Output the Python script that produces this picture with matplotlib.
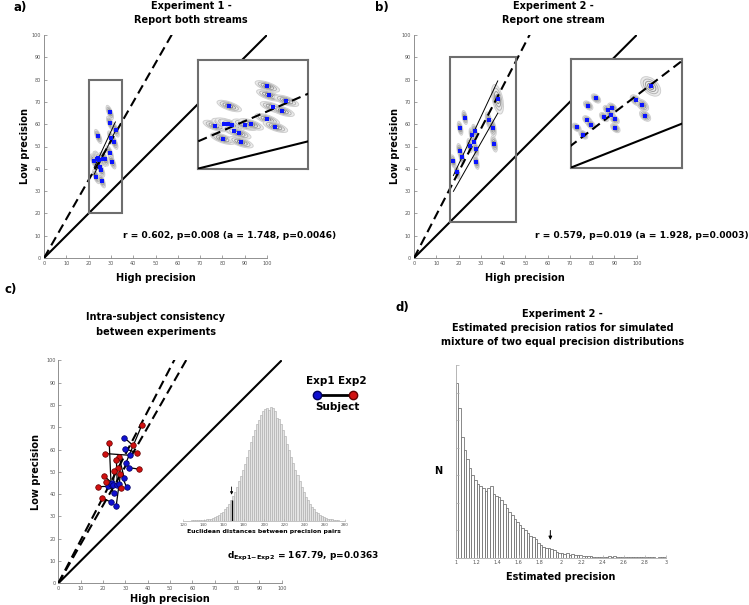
import numpy as np
import matplotlib
matplotlib.use('Agg')
import matplotlib.pyplot as plt
from matplotlib.patches import Ellipse, Rectangle
from matplotlib.ticker import FormatStrFormatter

# ---- data ----
# Experiment 1 precision estimates (high, low)
exp1_high = [29.5, 29.7, 24.3, 32.1, 30.2, 31.5, 29.5, 30.6, 22.4, 23.6, 24.1, 24.7, 26.4, 27.3, 25.0, 25.6, 23.4, 25.9]
exp1_low = [65.3, 60.4, 54.5, 57.4, 53.8, 51.9, 47.2, 43.1, 43.5, 44.6, 44.8, 44.0, 44.2, 44.4, 40.7, 39.5, 36.5, 34.6]
# Experiment 2
exp2_high = [37.5, 33.5, 35.3, 36.0, 22.8, 20.7, 26.0, 27.2, 26.8, 25.0, 27.8, 28.0, 20.5, 21.4, 17.6, 19.4]
exp2_low = [71.2, 61.8, 58.5, 51.2, 63.0, 58.2, 55.2, 56.8, 51.9, 50.4, 48.8, 42.9, 48.2, 45.3, 43.3, 38.4]
exp2_spread = [1.8, 1.0, 1.1, 1.0, 0.85, 0.85, 0.85, 0.85, 0.85, 0.85, 0.85, 0.85, 0.85, 0.85, 0.8, 0.8]

# subjects that took part in both experiments (index into exp1, index into exp2)
pair_exp1 = [0, 1, 3, 4, 5, 6, 7, 8, 9, 10, 11, 12, 13, 14, 16, 17]
pair_exp2 = [1, 2, 5, 0, 3, 7, 8, 14, 4, 12, 9, 6, 11, 13, 15, 10]

slope_exp1 = 1.748
slope_exp2 = 1.928
zoom_a_x, zoom_a_y = (20, 35), (20, 80)
zoom_b_x, zoom_b_y = (16, 46), (16, 90)

# slope confidence lines
ci_a_x = [22.5, 32.0]
ci_a_upper = [40.5, 61.0]
ci_a_lower = [37.5, 57.0]
ci_b_x = [17.7, 37.6]
ci_b_upper = [37.0, 79.4]
ci_b_lower = [29.9, 64.9]

stats_a = 'r = 0.602, p=0.008 (a = 1.748, p=0.0046)'
stats_b = 'r = 0.579, p=0.019 (a = 1.928, p=0.0003)'

# permutation distribution of euclidean distances (bins of 2, from 128)
dist_start = 128
dist_counts = [1, 1, 1, 1, 1, 2, 3, 4, 5, 6, 8, 11, 14, 17, 22, 27, 34, 42, 51, 61, 73,
               86, 100, 117, 134, 152, 168, 191, 211, 234, 251, 269, 287, 300, 315, 326, 334,
               336, 330, 338, 336, 326, 305, 302, 287, 269, 251, 228, 211, 191, 171,
               152, 137, 117, 100, 86, 70, 61, 51, 42, 34, 27, 22, 17, 14, 11, 8,
               6, 5, 4, 3, 2, 1]
observed_dist = 167.79

# simulated precision ratios (bins of 0.025 from 1)
ratio_counts = [525, 449, 361, 324, 296, 270, 247, 232, 220, 216, 209, 200, 208, 214, 190, 185,
                182, 172, 160, 148, 137, 128, 116, 108, 99, 89, 82, 74, 65, 61, 55, 44,
                39, 32, 28, 29, 26, 23, 17, 14,
                13, 11, 15, 9, 11, 7, 9, 7, 6, 5, 5, 4, 3, 3, 2, 3, 3, 2, 4, 3,
                4, 3, 2, 3, 2, 2, 3, 1, 2, 1, 1, 2, 1, 1, 1, 1, 0, 1, 1, 2]
observed_ratio = 1.9

dist_left = dist_start + 2 * np.arange(len(dist_counts))
ratio_left = 1.0 + 0.025 * np.arange(len(ratio_counts))

W, H = 749, 605
fig = plt.figure(figsize=(W / 100, H / 100), dpi=100)
plt.rcParams['mathtext.fontset'] = 'dejavusans'


def box(l, t, r, b):
    return [l / W, 1 - b / H, (r - l) / W, (b - t) / H]


def ftext(x, y, s, **kw):
    kw.setdefault('ha', 'center')
    kw.setdefault('va', 'center')
    kw.setdefault('fontweight', 'bold')
    fig.text(x / W, 1 - y / H, s, **kw)


GRAY = '#7f7f7f'


def style_axes(ax, xlabel, ylabel, ylabelpad):
    ax.set_xlim(0, 100)
    ax.set_ylim(0, 100)
    ax.set_xticks(range(0, 101, 10))
    ax.set_yticks(range(0, 101, 10))
    for s in ['top', 'right']:
        ax.spines[s].set_visible(False)
    for s in ['left', 'bottom']:
        ax.spines[s].set_color(GRAY)
        ax.spines[s].set_linewidth(0.6)
    ax.tick_params(direction='in', length=2, width=0.5, colors=GRAY,
                   labelsize=3.5, labelcolor='#555555', pad=2)
    ax.set_xlabel(xlabel, fontsize=7, fontweight='bold', labelpad=5)
    ax.set_ylabel(ylabel, fontsize=7, fontweight='bold', labelpad=ylabelpad)


def blobs(ax, xs, ys, spread, angle, ms):
    shades = ['#cfcfcf', '#b4b4b4', '#9a9a9a', '#808080']
    for x, y, s in zip(xs, ys, spread):
        ax.add_patch(Ellipse((x, y), 7.5 * s, 2.6 * s, angle=angle,
                             fc='#ececec', ec='none', zorder=2))
        for k, c in zip([1.0, 0.75, 0.52, 0.3], shades):
            ax.add_patch(Ellipse((x, y), 7.5 * s * k, 2.6 * s * k, angle=angle,
                                 fill=False, ec=c, lw=0.7, zorder=2))
    ax.plot(xs, ys, 's', color='#0a14ff', ms=ms, mew=0, zorder=4)


def identity_lines(ax, slopes, lw=1.5):
    xs = np.array([0, 100])
    ax.plot(xs, xs, color='k', lw=lw, zorder=3, solid_capstyle='butt')
    for sl in slopes:
        ax.plot(xs, sl * xs, color='k', lw=lw, ls=(0, (4.5, 2.5)), zorder=3)


def scatter_panel(axbox, insetbox, hx, ly, spread, slope, zx, zy, ci_x, ci_hi, ci_lo, angle):
    ax = fig.add_axes(axbox)
    style_axes(ax, 'High precision', 'Low precision', 1.5)
    identity_lines(ax, [slope])
    blobs(ax, hx, ly, spread, angle, 2.3)
    ax.plot(ci_x, ci_hi, color='k', lw=0.7, zorder=3)
    ax.plot(ci_x, ci_lo, color='k', lw=0.7, zorder=3)
    ax.add_patch(Rectangle((zx[0], zy[0]), zx[1] - zx[0], zy[1] - zy[0], fill=False,
                           ec='#6e6e6e', lw=1.5, zorder=5))
    ins = fig.add_axes(insetbox)
    ins.set_xlim(*zx)
    ins.set_ylim(*zy)
    ins.set_xticks([])
    ins.set_yticks([])
    for s in ins.spines.values():
        s.set_color('#6e6e6e')
        s.set_linewidth(1.5)
    identity_lines(ins, [slope])
    blobs(ins, hx, ly, spread, angle, 2.6)
    return ax


# ---- panel a ----
scatter_panel(box(44, 35, 267, 258), box(197.7, 59.7, 307.7, 168.7), exp1_high, exp1_low,
              [0.9] * len(exp1_high), slope_exp1, zoom_a_x, zoom_a_y,
              ci_a_x, ci_a_upper, ci_a_lower, 112)
ftext(191, 6, 'Experiment 1 -', fontsize=7)
ftext(191, 20, 'Report both streams', fontsize=7)
ftext(20, 7.5, 'a)', fontsize=8.5)
ftext(123, 235, stats_a, fontsize=6.6, ha='left')

# ---- panel b ----
scatter_panel(box(414, 35, 636.7, 258), box(570.7, 58.7, 682.3, 167.7), exp2_high, exp2_low,
              exp2_spread, slope_exp2, zoom_b_x, zoom_b_y,
              ci_b_x, ci_b_upper, ci_b_lower, 102)
ftext(553.7, 6, 'Experiment 2 -', fontsize=7)
ftext(553.7, 20, 'Report one stream', fontsize=7)
ftext(382, 7.5, 'b)', fontsize=8.5)
ftext(535, 235, stats_b, fontsize=6.6, ha='left')

# ---- panel c ----
axc = fig.add_axes(box(58.3, 360.3, 281.7, 583.3))
style_axes(axc, 'High precision', 'Low precision', 4)
axc.xaxis.labelpad = 2
identity_lines(axc, [slope_exp1, slope_exp2])
for i, j in zip(pair_exp1, pair_exp2):
    axc.plot([exp1_high[i], exp2_high[j]], [exp1_low[i], exp2_low[j]], color='k', lw=0.9, zorder=4)
p1 = np.array(pair_exp1)
p2 = np.array(pair_exp2)
axc.plot(np.array(exp1_high)[p1], np.array(exp1_low)[p1], 'o', color='#1010d0', mec='#000060',
         mew=0.5, ms=4, zorder=5)
axc.plot(np.array(exp2_high)[p2], np.array(exp2_low)[p2], 'o', color='#d01010', mec='#600000',
         mew=0.5, ms=4, zorder=5)

# legend drawn outside the axes
axc.plot([1.16, 1.317], [0.843, 0.843], transform=axc.transAxes, color='k', lw=2, clip_on=False)
axc.plot([1.16], [0.843], 'o', transform=axc.transAxes, color='#1010d0', mec='#000060', ms=6, clip_on=False)
axc.plot([1.317], [0.843], 'o', transform=axc.transAxes, color='#d01010', mec='#600000', ms=6, clip_on=False)
ftext(320.5, 381, 'Exp1', fontsize=7.5)
ftext(352, 381, 'Exp2', fontsize=7.5)
ftext(337.5, 407, 'Subject', fontsize=7.5)

ftext(156, 317, 'Intra-subject consistency', fontsize=7)
ftext(156, 332, 'between experiments', fontsize=7)
ftext(11, 290, 'c)', fontsize=8.5)
ftext(227, 556, r'$\mathbf{d}_{\mathbf{Exp1\!-\!Exp2}}$ = 167.79, p=0.0363', fontsize=6.5, ha='left')

# distance histogram inset
axh = fig.add_axes(box(183.3, 407.3, 345, 520.7))
axh.patch.set_alpha(0)
axh.bar(dist_left, dist_counts, width=2, align='edge', color='#e4e4e4', ec='#a8a8a8', lw=0.4)
k = int((observed_dist - dist_start) // 2)
axh.vlines(observed_dist, 0, dist_counts[k], color='k', lw=1)
axh.annotate('', xy=(observed_dist, dist_counts[k] + 8), xytext=(observed_dist, dist_counts[k] + 48),
             arrowprops=dict(arrowstyle='-|>', color='k', lw=0.6, mutation_scale=4))
axh.set_xlim(120, 280)
axh.set_ylim(0, max(dist_counts))
axh.set_xticks(range(120, 281, 20))
axh.set_yticks([])
for s in ['top', 'right', 'left']:
    axh.spines[s].set_visible(False)
axh.spines['bottom'].set_color('#aaaaaa')
axh.spines['bottom'].set_linewidth(0.5)
axh.tick_params(direction='in', length=1.5, width=0.4, colors='#aaaaaa', labelsize=3,
                labelcolor='#555555', pad=1.5)
axh.set_xlabel('Euclidean distances between precision pairs', fontsize=4.4, fontweight='bold', labelpad=1.5)

# ---- panel d ----
axd = fig.add_axes(box(455.7, 365, 666, 557.7))
axd.bar(ratio_left, ratio_counts, width=0.025, align='edge', color='white', ec='#6a6a6a', lw=0.55)
axd.annotate('', xy=(observed_ratio, 45), xytext=(observed_ratio, 90),
             arrowprops=dict(arrowstyle='-|>', color='k', lw=0.7, mutation_scale=5))
axd.set_xlim(1, 3)
ymax = 578
axd.set_ylim(0, ymax)
axd.set_xticks(np.arange(1, 3.01, 0.2))
axd.xaxis.set_major_formatter(FormatStrFormatter('%g'))
axd.set_yticks(np.linspace(0, ymax, 8))
axd.set_yticklabels([])
for s in ['top', 'right']:
    axd.spines[s].set_visible(False)
for s in ['left', 'bottom']:
    axd.spines[s].set_color('#aaaaaa')
    axd.spines[s].set_linewidth(0.6)
axd.tick_params(direction='in', length=2, width=0.5, colors='#aaaaaa', labelsize=3.5,
                labelcolor='#555555', pad=2)
axd.set_xlabel('Estimated precision', fontsize=7, fontweight='bold', labelpad=5)
axd.text(-0.0856, 0.45, 'N', transform=axd.transAxes, ha='center', va='center',
         fontsize=7, fontweight='bold')
ftext(562.7, 314, 'Experiment 2 -', fontsize=7)
ftext(562.7, 328, 'Estimated precision ratios for simulated', fontsize=7)
ftext(562.7, 342, 'mixture of two equal precision distributions', fontsize=7)
ftext(402, 307, 'd)', fontsize=8.5)

fig.savefig('out.png', dpi=100)
